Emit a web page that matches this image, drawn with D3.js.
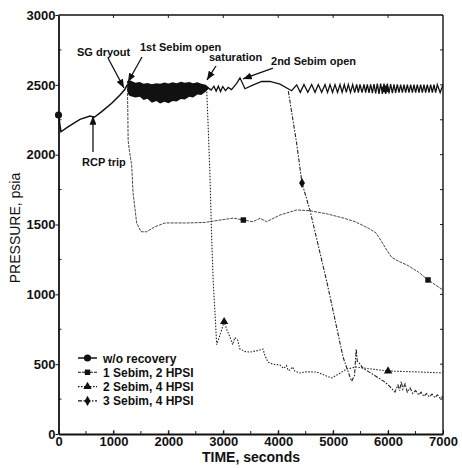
<!DOCTYPE html>
<html>
<head>
<meta charset="utf-8">
<script src="https://cdn.jsdelivr.net/npm/d3@7"></script>
<style>
body{margin:0;background:#fff;}
text{font-family:"Liberation Sans",Arial,Helvetica,sans-serif;fill:#111;}
</style>
</head>
<body>
<svg id="chart" width="462" height="468"></svg>
<script>
// axis ticks
const xTicks = [0,1000,2000,3000,4000,5000,6000,7000];
const yTicks = [0,500,1000,1500,2000,2500,3000];

// w/o recovery: start-up part, then SRV oscillation band (envelope), then late part
const noRecovery = [[0,2284],[45,2164],[179,2200],[391,2253],[573,2277],[652,2268],[786,2308],
	[968,2368],[1120,2427],[1210,2468],[1250,2500]];
const bandTime   = [1250,1270,1300,1400,1480,1550,1620,1700,1780,1850,1930,2000,2080,2150,2230,2300,2380,2450,2530,2600,2680,2730];
const bandTop    = [2530,2525,2532,2515,2520,2508,2514,2505,2512,2508,2516,2510,2518,2512,2522,2515,2520,2512,2518,2508,2500,2485];
const bandBottom = [2470,2430,2420,2410,2415,2392,2400,2372,2385,2366,2378,2368,2385,2380,2398,2395,2415,2410,2430,2428,2450,2470];
const noRecoveryLate = [[2720,2480],[2780,2462],[2830,2490],[2870,2455],[2910,2490],[2950,2452],
	[2990,2488],[3040,2458],[3090,2482],[3150,2466],[3244,2511],[3304,2550],[3395,2472],[3547,2500],
	[3699,2525],[3850,2524],[4032,2505],[4245,2458],
	[4336,2500],[4402,2446],[4469,2502],[4539,2446],[4609,2502],[4670,2446],[4730,2502],[4791,2446],
	[4852,2502],[4898,2446],[4943,2502],[4989,2446],[5034,2502],[5080,2446],[5125,2502],[5164,2446],
	[5203,2502],[5240,2446],[5276,2502],[5316,2446],[5356,2502],[5392,2444],[5428,2503],[5459,2444],
	[5489,2503],[5526,2444],[5562,2503],[5592,2444],[5622,2504],[5653,2442],[5683,2504],[5714,2440],
	[5744,2506],[5774,2438],[5804,2508],[5835,2436],[5865,2508],[5896,2435],[5926,2508],[5956,2436],
	[5986,2508],[6017,2438],[6047,2506],[6078,2440],[6108,2504],[6138,2442],[6168,2503],[6199,2444],
	[6229,2502],[6260,2445],[6290,2502],[6320,2445],[6350,2502],[6381,2445],[6411,2502],[6442,2445],
	[6472,2502],[6502,2445],[6532,2502],[6563,2445],[6593,2502],[6624,2445],[6654,2502],[6684,2445],
	[6714,2502],[6745,2445],[6775,2502],[6806,2445],[6836,2502],[6866,2445],[6896,2502],[6948,2445],
	[7000,2500]];

const oneSebim = [[1255,2470],[1262,2300],[1268,2100],[1290,2030],[1332,1926],[1358,1725],[1423,1511],
	[1502,1448],[1605,1448],[1757,1484],[1939,1511],[2357,1511],[2667,1515],[3180,1546],[3365,1532],
	[3540,1520],[3668,1544],[3790,1520],[4032,1568],[4336,1604],[4578,1599],[4900,1575],[5180,1547],
	[5400,1520],[5635,1475],[5780,1440],[5884,1377],[5975,1317],[6066,1265],[6200,1235],[6345,1210],
	[6550,1160],[6727,1103],[7000,1031]];

const twoSebim = [[2700,2450],[2730,2150],[2758,1842],[2790,1389],[2818,1079],[2849,866],[2880,640],
	[2950,720],[3015,804],[3070,740],[3122,694],[3170,640],[3210,690],[3262,673],[3300,610],[3400,590],
	[3486,587],[3600,595],[3723,608],[3760,560],[3814,515],[3900,500],[4032,494],[4100,470],[4150,490],
	[4180,455],[4214,458],[4260,480],[4300,450],[4396,437],[4500,445],[4700,444],[4850,420],[4973,401],
	[5100,430],[5246,465],[5428,480],[5600,470],[6000,451],[6500,445],[7000,437]];

const threeSebim = [[4184,2455],[4336,2080],[4433,1797],[4580,1599],[4890,1081],[5180,551],[5307,408],
	[5337,378],[5390,420],[5420,610],[5440,520],[5480,505],[5545,470],[5650,445],[5792,410],[5950,370],
	[6035,339],[6125,300],[6180,350],[6210,310],[6240,375],[6270,320],[6310,360],[6350,300],[6400,330],
	[6450,290],[6500,310],[6560,280],[6600,300],[6650,270],[6700,290],[6750,265],[6800,285],[6850,260],
	[6900,280],[6950,255],[7000,270]];

// symbols placed on the curves
const noRecoveryMarks = [[0,2284],[5950,2470]];
const oneSebimMarks = [[3365,1532],[6727,1103]];
const twoSebimMarks = [[3015,804],[6000,451]];
const threeSebimMarks = [[4433,1797]];

const seriesNames = ['w/o recovery','1 Sebim, 2 HPSI','2 Sebim, 4 HPSI','3 Sebim, 4 HPSI'];

// annotations: text anchor, arrow tail, arrow tip (seconds, psia)
const notes = [
	{label:'SG dryout',      text:[337,2706],  tail:[901,2692],  tip:[1192,2477]},
	{label:'1st Sebim open', text:[1484,2742], tail:[1520,2699], tip:[1265,2520]},
	{label:'saturation',     text:[2740,2668], tail:[2867,2635], tip:[2703,2535]},
	{label:'2nd Sebim open', text:[3869,2640], tail:[3905,2620], tip:[3359,2542]},
	{label:'RCP trip',       text:[428,1919],  tail:[628,2019],  tip:[628,2277]}
];

const svg = d3.select('#chart');
const x = d3.scaleLinear().domain([0,7000]).range([58.5,443]);
const y = d3.scaleLinear().domain([0,3000]).range([434,15]);
const line = d3.line().x(d=>x(d[0])).y(d=>y(d[1]));

svg.append('rect').attr('width',462).attr('height',468).attr('fill','#fff');

svg.append('defs').append('marker')
	.attr('id','arrow')
	.attr('markerUnits','userSpaceOnUse')
	.attr('viewBox','0 0 10 8')
	.attr('refX',10).attr('refY',4)
	.attr('markerWidth',9).attr('markerHeight',7)
	.attr('orient','auto')
	.append('path').attr('d','M0,0L10,4L0,8z').attr('fill','#111');

// minor ticks (inward)
const minorY = d3.range(250,3000,500);
svg.append('g').selectAll('line').data(minorY).join('line')
	.attr('x1',x(0)).attr('x2',x(0)+3).attr('y1',d=>y(d)).attr('y2',d=>y(d))
	.attr('stroke','#222');
svg.append('g').selectAll('line').data(d3.range(250,3000,250)).join('line')
	.attr('x1',x(7000)).attr('x2',x(7000)-3).attr('y1',d=>y(d)).attr('y2',d=>y(d))
	.attr('stroke','#222');
svg.append('g').selectAll('line').data(d3.range(500,7000,500)).join('line')
	.attr('x1',d=>x(d)).attr('x2',d=>x(d)).attr('y1',y(0)).attr('y2',y(0)-3)
	.attr('stroke','#222');
svg.append('g').selectAll('line').data(d3.range(1000,7000,1000)).join('line')
	.attr('x1',d=>x(d)).attr('x2',d=>x(d)).attr('y1',y(3000)).attr('y2',y(3000)+3)
	.attr('stroke','#222');

// frame
svg.append('line').attr('x1',x(0)).attr('x2',x(7000)).attr('y1',y(3000)).attr('y2',y(3000))
	.attr('stroke','#111').attr('stroke-width',1.4);
svg.append('line').attr('x1',x(7000)).attr('x2',x(7000)).attr('y1',y(3000)).attr('y2',y(0))
	.attr('stroke','#111').attr('stroke-width',1.4);

const fmt = d3.format('d');
const xAxis = svg.append('g').attr('transform','translate(0,'+y(0)+')')
	.call(d3.axisBottom(x).tickValues(xTicks).tickFormat(fmt).tickSizeInner(-4).tickSizeOuter(0).tickPadding(3));
const yAxis = svg.append('g').attr('transform','translate('+x(0)+',0)')
	.call(d3.axisLeft(y).tickValues(yTicks).tickFormat(fmt).tickSizeInner(3).tickSizeOuter(0).tickPadding(0));
[xAxis,yAxis].forEach(a=>{
	a.select('.domain').attr('stroke','#111').attr('stroke-width',1.8);
	a.selectAll('.tick line').attr('stroke','#111');
	a.selectAll('.tick text').attr('font-size',13).attr('font-weight','bold')
		.attr('font-family','"Liberation Sans",Arial,sans-serif').attr('fill','#111');
});

svg.append('text').attr('x',251).attr('y',462).attr('text-anchor','middle')
	.attr('font-size',14).attr('font-weight','bold').text('TIME, seconds');
svg.append('text').attr('transform','translate(20,228) rotate(-90)').attr('text-anchor','middle')
	.attr('font-size',14).text('PRESSURE, psia');

// curves
svg.append('path').datum(oneSebim).attr('d',line).attr('fill','none')
	.attr('stroke','#333').attr('stroke-width',0.9).attr('stroke-dasharray','3,1');
svg.append('path').datum(twoSebim).attr('d',line).attr('fill','none')
	.attr('stroke','#222').attr('stroke-width',1.1).attr('stroke-dasharray','1.5,1.5');
svg.append('path').datum(threeSebim).attr('d',line).attr('fill','none')
	.attr('stroke','#222').attr('stroke-width',1.1).attr('stroke-dasharray','4,1.5,1.5,1.5');

const band = d3.area().x((d,i)=>x(bandTime[i])).y0((d,i)=>y(bandBottom[i])).y1((d,i)=>y(bandTop[i]));
svg.append('path').datum(bandTime).attr('d',band).attr('fill','#111');
svg.append('path').datum(noRecovery).attr('d',line).attr('fill','none')
	.attr('stroke','#111').attr('stroke-width',1.5);
svg.append('path').datum(noRecoveryLate).attr('d',line).attr('fill','none')
	.attr('stroke','#111').attr('stroke-width',1.3).attr('stroke-linejoin','miter');

// symbols
const symbolTypes = [d3.symbolCircle,d3.symbolSquare,d3.symbolTriangle,d3.symbolDiamond];
const markSets = [noRecoveryMarks,oneSebimMarks,twoSebimMarks,threeSebimMarks];
markSets.forEach((set,i)=>{
	svg.append('g').selectAll('path').data(set).join('path')
		.attr('transform',d=>'translate('+x(d[0])+','+y(d[1])+')')
		.attr('d',d3.symbol().type(symbolTypes[i]).size(i==0?40:30))
		.attr('fill','#111');
});

// annotations
notes.forEach(n=>{
	svg.append('line')
		.attr('x1',x(n.tail[0])).attr('y1',y(n.tail[1]))
		.attr('x2',x(n.tip[0])).attr('y2',y(n.tip[1]))
		.attr('stroke','#111').attr('stroke-width',1.3)
		.attr('marker-end','url(#arrow)');
	svg.append('text').attr('x',x(n.text[0])).attr('y',y(n.text[1]))
		.attr('font-size',11).attr('font-weight','bold').text(n.label);
});

// legend
const dashes = [null,'3,1','1.5,1.5','4,1.5,1.5,1.5'];
const legend = svg.append('g').attr('transform','translate(78,358)');
const rows = legend.selectAll('g').data(seriesNames).join('g')
	.attr('transform',(d,i)=>'translate(0,'+(i*14.3)+')');
rows.append('line').attr('x1',0).attr('x2',19).attr('y1',0).attr('y2',0)
	.attr('stroke','#111').attr('stroke-width',(d,i)=>i==0?1.5:1.1)
	.attr('stroke-dasharray',(d,i)=>dashes[i]);
rows.append('path').attr('transform','translate(9.5,0)')
	.attr('d',(d,i)=>d3.symbol().type(symbolTypes[i]).size(i==0?40:30)())
	.attr('fill','#111');
rows.append('text').attr('x',25).attr('y',4.5).attr('font-size',12).attr('font-weight','bold').text(d=>d);
</script>
</body>
</html>
